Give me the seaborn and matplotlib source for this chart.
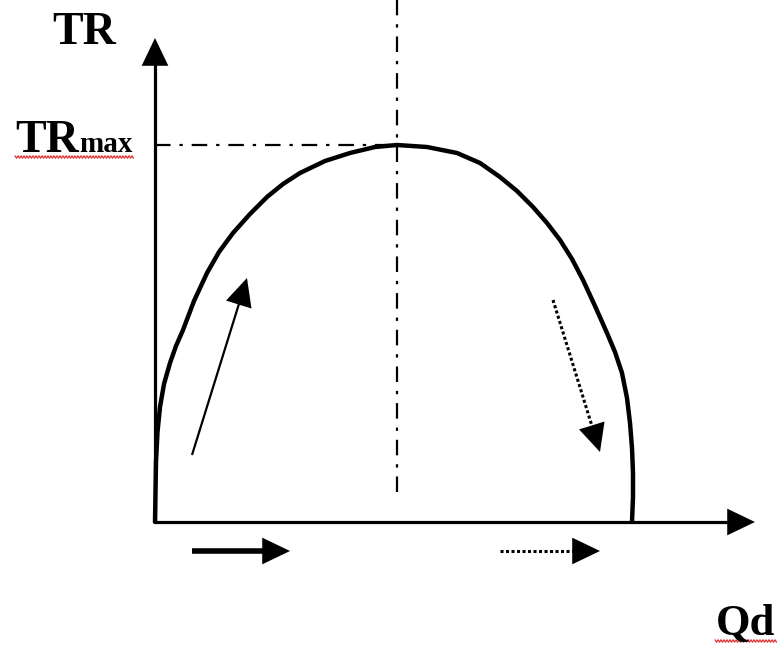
import numpy as np
import matplotlib
matplotlib.use("Agg")
import matplotlib.pyplot as plt
import seaborn as sns

# === Data (units: Q and TR in picture pixels from the origin) === #
q_curve = [0, 0.5, 1, 2.5, 5, 9, 15, 21, 28, 39, 52, 64, 78, 95, 112, 128, 145, 170, 195, 220, 242,
           272, 302, 325, 345, 362, 378, 392, 405, 417, 428, 440, 452, 460, 467, 472, 475, 477, 478, 478, 477]
tr_curve = [0, 30, 60, 90, 115, 138, 159, 176, 192, 221, 249, 270, 289, 308, 325, 338, 349, 361, 369, 375, 377,
            375, 369, 359, 345, 331, 315, 299, 282, 263, 242, 216, 189, 170, 149, 124, 99, 74, 49, 25, 0]
q_at_max = 242
tr_max = 377
q_axis_end = 600
tr_axis_end = 484

# direction arrows: (start, end)
rise_arrow = [(37, 67), (92, 244)]
fall_arrow = [(398, 222), (445, 70)]
q_solid_arrow = [(37, -29), (135, -29)]
q_dotted_arrow = [(345, -29), (445, -29)]

sns.set_style("white")
plt.rcParams["font.family"] = ["Liberation Serif", "DejaVu Serif"]
plt.rcParams["text.color"] = "black"

fig = plt.figure(figsize=(7.81, 6.46), dpi=100)
ax = fig.add_axes([0, 0, 1, 1])
ax.set_xlim(-155, 626)
ax.set_ylim(-124, 522)
ax.axis("off")

head = dict(arrowstyle="-|>,head_length=1.0,head_width=0.48", color="black",
            lw=0, shrinkA=0, shrinkB=0, mutation_scale=20)

# === Axes with arrow heads === #
ax.plot([0, 0], [0, tr_axis_end - 20], color="black", lw=2.3, solid_capstyle="butt")
ax.plot([0, q_axis_end - 20], [0, 0], color="black", lw=2.3, solid_capstyle="butt")
ax.annotate("", xy=(0, tr_axis_end), xytext=(0, tr_axis_end - 25), arrowprops=head)
ax.annotate("", xy=(q_axis_end, 0), xytext=(q_axis_end - 25, 0), arrowprops=head)

# === TR curve === #
sns.lineplot(x=q_curve, y=tr_curve, sort=False, estimator=None, color="black", lw=3.2, ax=ax,
             solid_joinstyle="round")

# === Dash-dot guides at the maximum === #
ax.plot([0, q_at_max], [tr_max, tr_max], color="black", lw=1.6, linestyle=(0, (7, 4, 1.5, 4)))
ax.plot([q_at_max, q_at_max], [30, 522], color="black", lw=1.6, linestyle=(0, (7, 4, 1.5, 4)))

# === Direction arrows === #
def draw_arrow(pts, ls, lw):
    (x0, y0), (x1, y1) = pts
    d = np.hypot(x1 - x0, y1 - y0)
    ux, uy = (x1 - x0) / d, (y1 - y0) / d
    ax.plot([x0, x1 - ux * 20], [y0, y1 - uy * 20], color="black", lw=lw, linestyle=ls,
            solid_capstyle="butt")
    ax.annotate("", xy=(x1, y1), xytext=(x1 - ux * 25, y1 - uy * 25), arrowprops=head)

draw_arrow(rise_arrow, "-", 1.6)
draw_arrow(fall_arrow, (0, (1, 0.8)), 2.2)
draw_arrow(q_solid_arrow, "-", 4.0)
draw_arrow(q_dotted_arrow, (0, (1, 0.8)), 2.2)

# === Labels === #
ax.text(-103, 478, "TR", fontsize=33, fontweight="bold", ha="left", va="baseline")
ax.text(-140, 370, "TR", fontsize=33, fontweight="bold", ha="left", va="baseline")
ax.text(-76, 370, "max", fontsize=21, fontweight="bold", ha="left", va="baseline")
ax.text(561, -113, "Qd", fontsize=32, fontweight="bold", ha="left", va="baseline")

# spell-check squiggles
def squiggle(x0, x1, y):
    xs = np.arange(x0, x1, 1.5)
    ys = y + 1.2 * np.where(np.arange(len(xs)) % 2 == 0, 1, -1)
    ax.plot(xs, ys, color="#e03030", lw=0.9)

squiggle(-140, -20, 365)
squiggle(560, 623, -119)

fig.savefig("out.png", dpi=100)
plt.close(fig)
